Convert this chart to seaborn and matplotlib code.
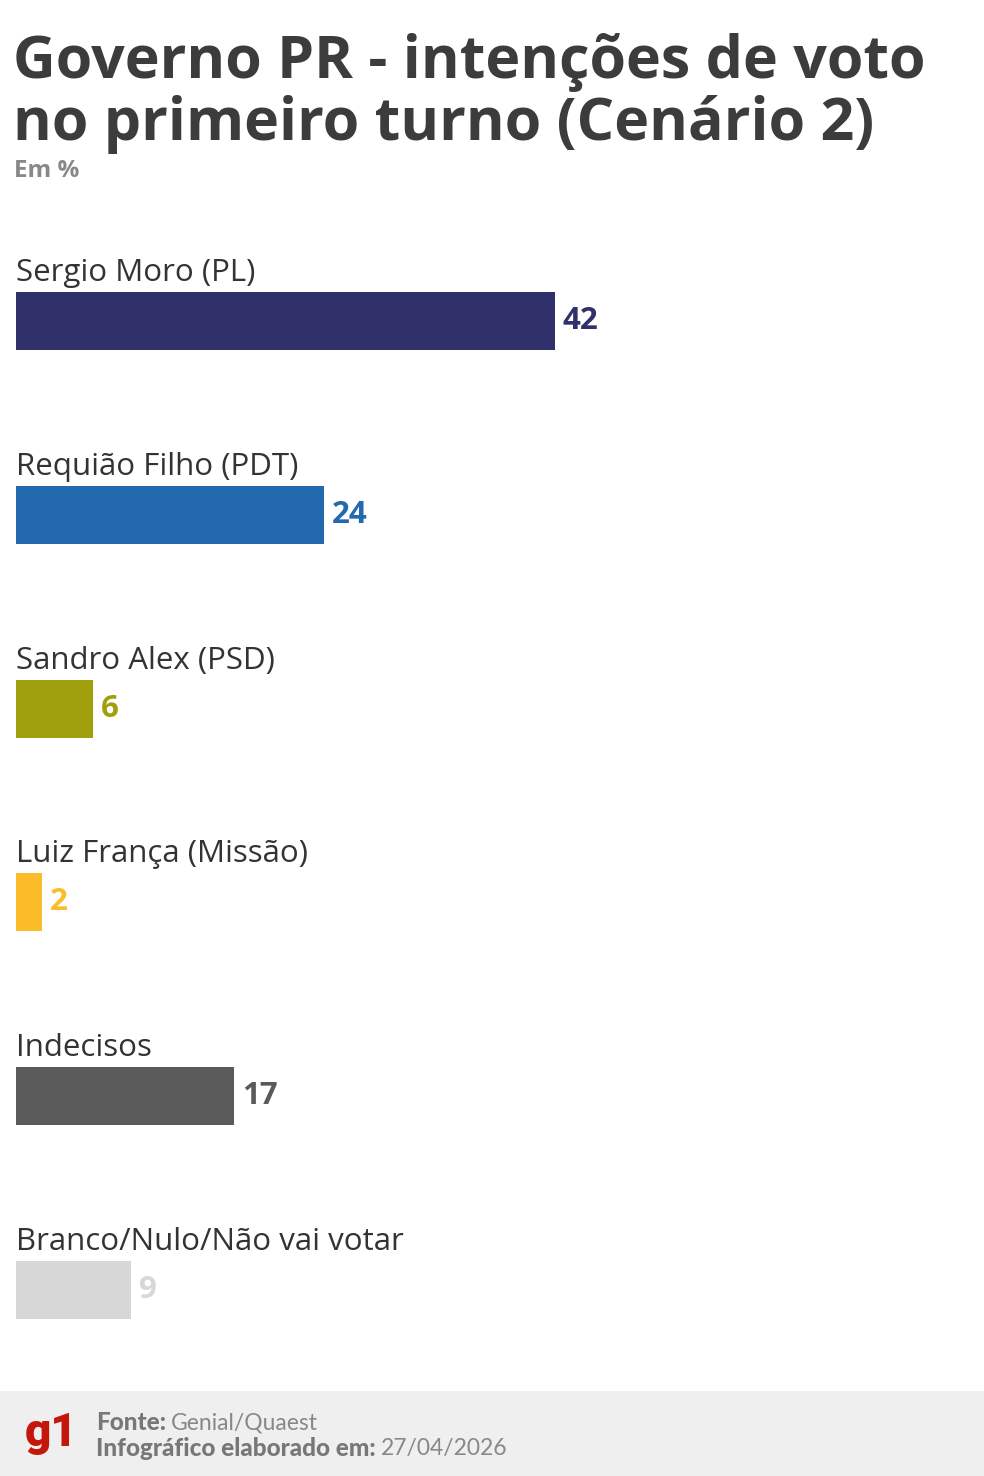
import pandas as pd
import matplotlib.pyplot as plt
import seaborn as sns
from matplotlib.patches import Rectangle

candidatos = ["Sergio Moro (PL)", "Requião Filho (PDT)", "Sandro Alex (PSD)",
              "Luiz França (Missão)", "Indecisos", "Branco/Nulo/Não vai votar"]
votos = [42, 24, 6, 2, 17, 9]
cores = ["#30306a", "#2369ad", "#a0a00e", "#fbbc2a", "#5a5a5a", "#d7d7d7"]

df = pd.DataFrame({"candidato": candidatos, "votos": votos})

sns.set_style("white")
plt.rcParams['font.family'] = ['Open Sans', 'DejaVu Sans']

W, H = 984, 1476
fig = plt.figure(figsize=(W / 100, H / 100), dpi=100)

# axes: 1 unit = 12.83 px, categories spaced 194 px apart
ax = fig.add_axes([16 / W, 1 - 1387 / H, 962 / W, (1387 - 224) / H])
sns.barplot(data=df, x="votos", y="candidato", hue="candidato", palette=cores,
            legend=False, width=0.3, ax=ax, orient="h", saturation=1, linewidth=0)
ax.set_xlim(0, 962 / 12.83)
ax.set_ylim(len(candidatos) - 0.5, -0.5)
ax.axis("off")

for i, (nome, v, c) in enumerate(zip(candidatos, votos, cores)):
    ax.text(0, i - 0.17, nome, ha="left", va="bottom", fontsize=22.5, color="#333333")
    ax.text(v + 0.6, i, str(v), ha="left", va="center", fontsize=22.5,
            fontweight="bold", color=c)

# title
fig.text(13 / W, 1 - 62 / H, "Governo PR - intenções de voto", fontsize=42.6,
         fontweight="bold", color="#3c3c3c", va="center", ha="left")
fig.text(13 / W, 1 - 124 / H, "no primeiro turno (Cenário 2)", fontsize=42.6,
         fontweight="bold", color="#3c3c3c", va="center", ha="left")
fig.text(14 / W, 1 - 171 / H, "Em %", fontsize=17.5, fontweight="bold",
         color="#888888", va="center", ha="left")

# footer
fig.patches.append(Rectangle((0, 0), 1, 85 / H, transform=fig.transFigure,
                             facecolor="#efefef", edgecolor="none", zorder=0))
fig.text(25 / W, 1 - 1433 / H, "g1", fontsize=33, fontweight="heavy",
         family="Roboto", color="#c4170c", va="center", ha="left")


def linha(y, negrito, normal):
    t = fig.text(96 / W, 1 - y / H, negrito, fontsize=17.5, fontweight="black",
                 family="Lato", color="#777777", va="center", ha="left")
    fig.canvas.draw()
    bb = t.get_window_extent()
    fig.text((bb.x1 + 5) / W, 1 - y / H, normal, fontsize=16.5, fontweight="normal",
             family="Lato", color="#888888", va="center", ha="left")


linha(1423, "Fonte:", "Genial/Quaest")
linha(1449, "Infográfico elaborado em:", "27/04/2026")

fig.savefig("out.png", dpi=100)
